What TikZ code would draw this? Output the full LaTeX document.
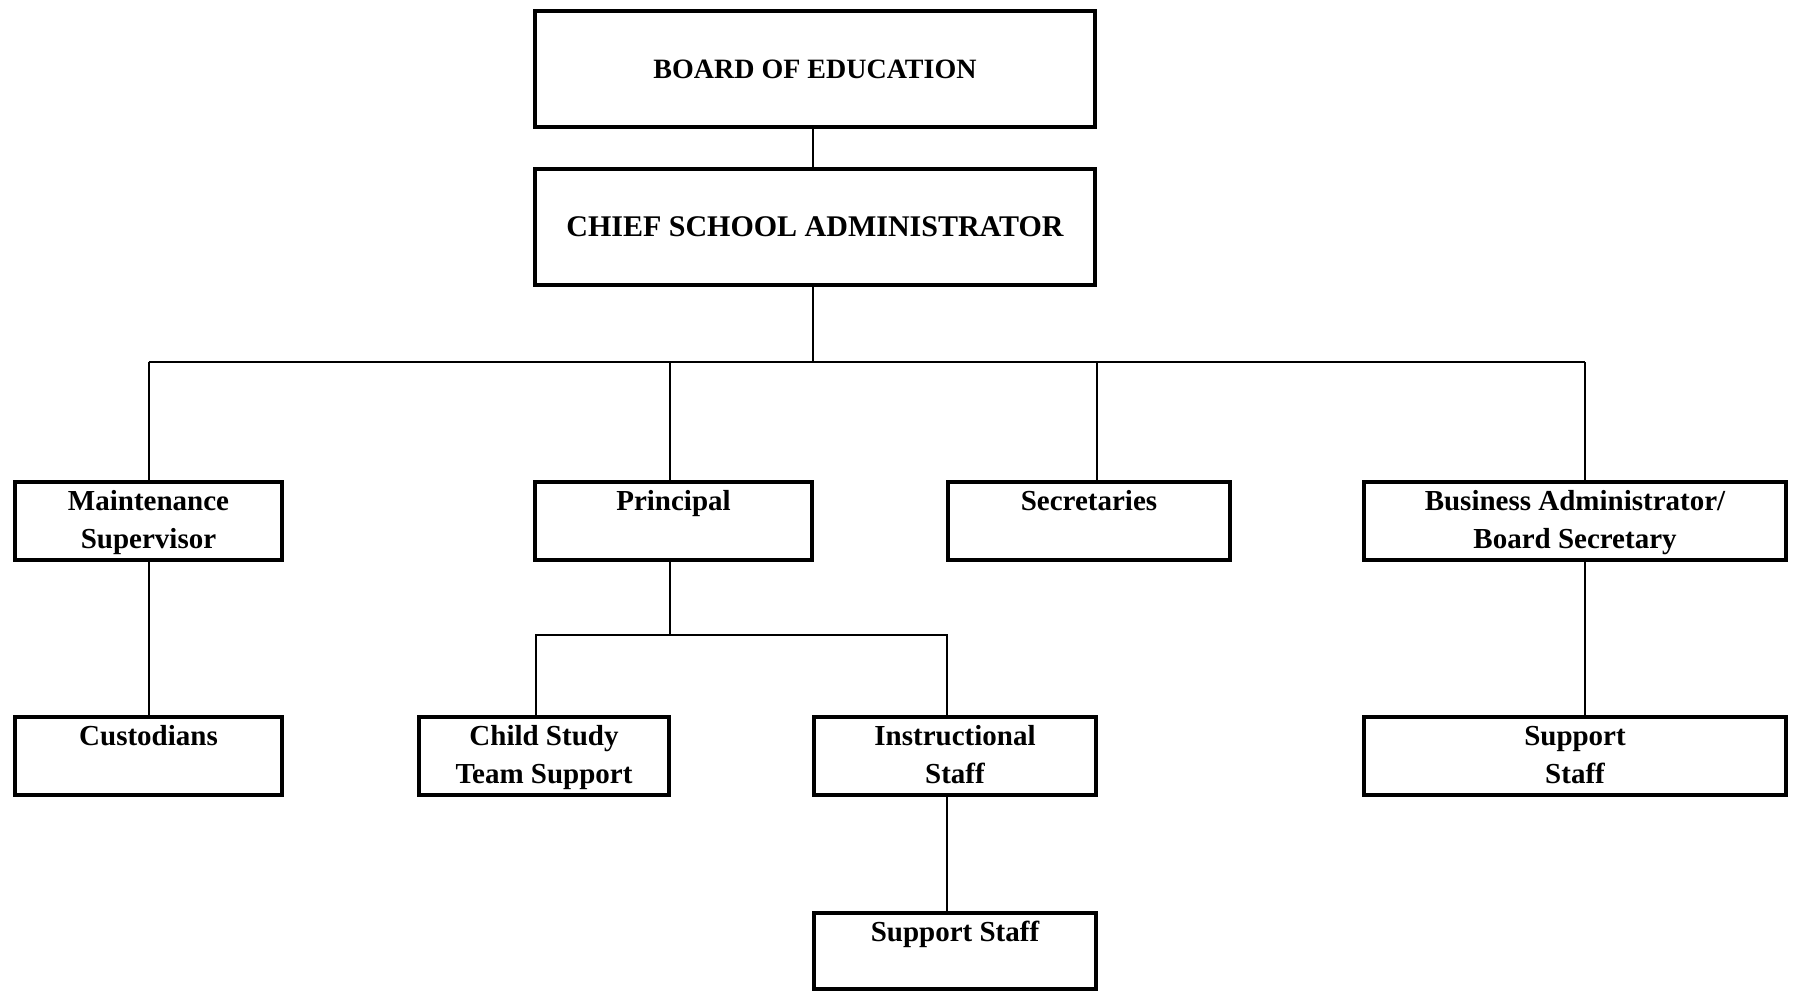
\documentclass[tikz,border=0pt]{standalone}
\usepackage{fontspec}
\setmainfont{Liberation Serif}
\newcommand{\toppad}{\rule{0pt}{26pt}}
\newcommand{\botpad}{\rule[-9pt]{0pt}{9pt}}
\tikzset{
  box/.style={draw, line width=4pt, rectangle, align=center, inner sep=0pt,
    font=\fontsize{29}{38}\selectfont\bfseries},
  conn/.style={line width=2pt},
}
\begin{document}
\begin{tikzpicture}[x=1pt, y=-1pt]
\fill[white] (0,0) rectangle (1795,990);
\useasboundingbox (0,0) rectangle (1795,990);

\node[box, minimum width=560pt, minimum height=116pt, font=\fontsize{28}{34}\selectfont\bfseries] (board) at (815,69) {BOARD OF EDUCATION};
\node[box, minimum width=560pt, minimum height=116pt, font=\fontsize{30}{36}\selectfont\bfseries] (chief) at (815,227) {CHIEF SCHOOL ADMINISTRATOR};

\node[box, minimum width=267pt, minimum height=78pt] (maint) at (148.5,521) {\toppad Maintenance\\Supervisor\botpad};
\node[box, minimum width=277pt, minimum height=78pt] (principal) at (673.5,521) {\toppad Principal\\\botpad};
\node[box, minimum width=282pt, minimum height=78pt] (secretaries) at (1089,521) {\toppad Secretaries\\\botpad};
\node[box, minimum width=422pt, minimum height=78pt] (business) at (1575,521) {\toppad Business Administrator/\\Board Secretary\botpad};

\node[box, minimum width=267pt, minimum height=78pt] (custodians) at (148.5,756) {\toppad Custodians\\\botpad};
\node[box, minimum width=250pt, minimum height=78pt] (childstudy) at (544,756) {\toppad Child Study\\Team Support\botpad};
\node[box, minimum width=282pt, minimum height=78pt] (instructional) at (955,756) {\toppad Instructional\\Staff\botpad};
\node[box, minimum width=422pt, minimum height=78pt] (supportR) at (1575,756) {\toppad Support\\Staff\botpad};
\node[box, minimum width=282pt, minimum height=76pt] (supportstaff) at (955,951) {\rule{0pt}{28pt}Support Staff\\\botpad};

\coordinate (busL) at (148.5,362);
\coordinate (busR) at (1585,362);
\coordinate (pbus) at (0,635);

\draw[conn] ([xshift=-2pt]board.south) -- ([xshift=-2pt]chief.north);
\draw[conn] ([xshift=-2pt]chief.south) -- ([xshift=-2pt]chief.south |- busL);
\draw[conn] (busL) -- (busR);
\draw[conn] (maint.north) -- (maint.north |- busL);
\draw[conn] ([xshift=-4pt]principal.north) -- ([xshift=-4pt]principal.north |- busL);
\draw[conn] ([xshift=8pt]secretaries.north) -- ([xshift=8pt]secretaries.north |- busL);
\draw[conn] ([xshift=10pt]business.north) -- ([xshift=10pt]business.north |- busL);

\draw[conn] (maint.south) -- (custodians.north);
\draw[conn] ([xshift=-4pt]principal.south) -- ([xshift=-4pt]principal.south |- pbus);
\draw[conn] ([xshift=-8pt]childstudy.north) |- ([xshift=-8pt]instructional.north |- pbus) -- ([xshift=-8pt]instructional.north);
\draw[conn] ([xshift=-8pt]instructional.south) -- ([xshift=-8pt]supportstaff.north);
\draw[conn] ([xshift=10pt]business.south) -- ([xshift=10pt]supportR.north);
\end{tikzpicture}
\end{document}
